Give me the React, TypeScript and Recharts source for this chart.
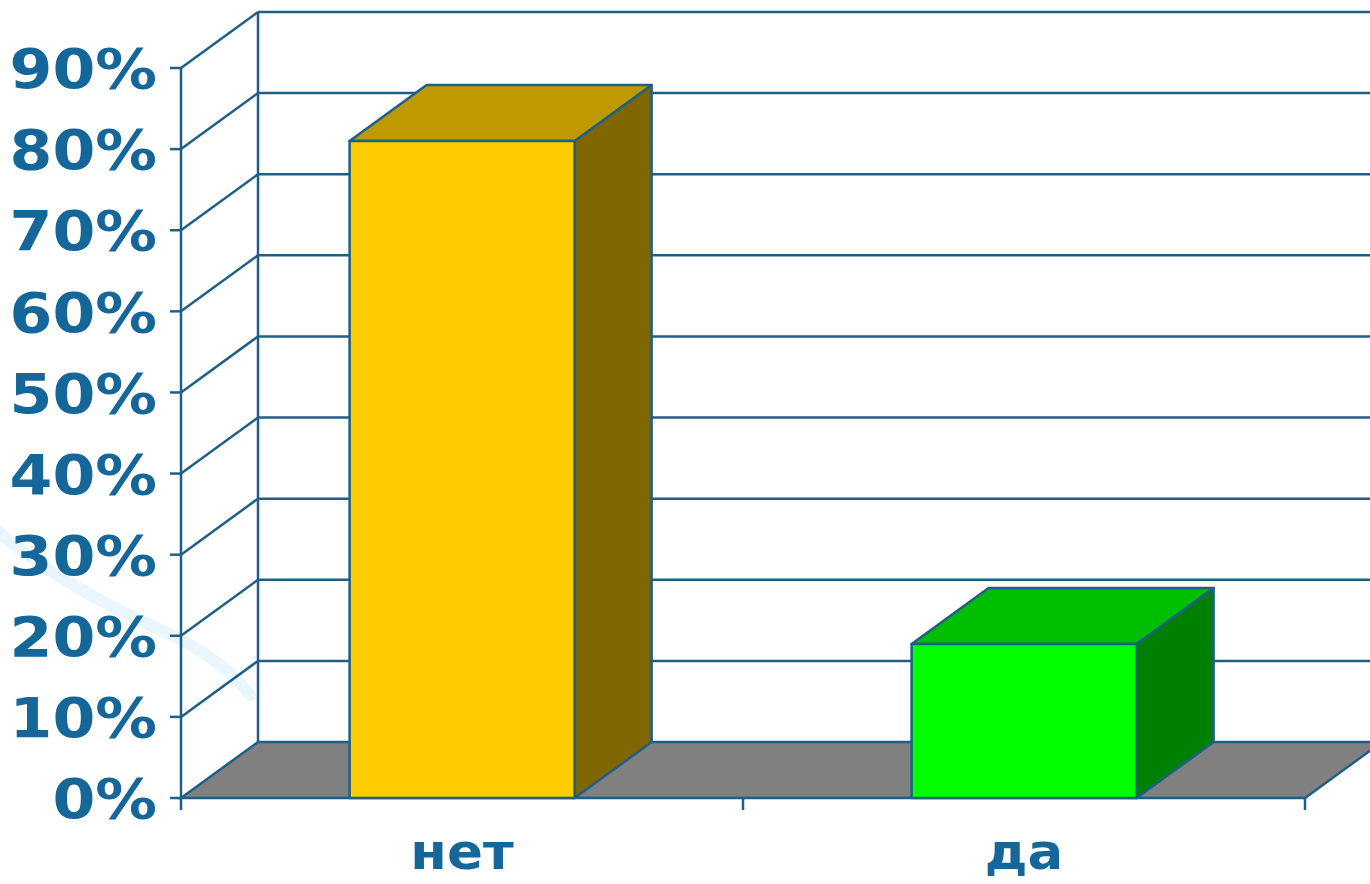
import React from 'react';
import { BarChart, Bar, XAxis, YAxis, CartesianGrid } from 'recharts';

// данные с диаграммы
const categories = ['нет', 'да'];
const values = [81, 19];
const yTicks = [0, 10, 20, 30, 40, 50, 60, 70, 80, 90];

const frontColors = ['#FFCC00', '#00FF00'];
const topColors = ['#BF9900', '#00BF00'];
const sideColors = ['#806600', '#008000'];

const data = categories.map((name, i) => ({ name, value: values[i] }));

// глубина 3D
const DX = 77;
const DY = -56;
const LINE = '#1f5f87';
const TEXT = '#15679a';
const SW = 2.5;
const FONT = '"DejaVu Sans", Verdana, sans-serif';

const Box3D = (props: any) => {
  const { x, y, width: w, height: h, index } = props;
  if (w == null || h == null) return null;
  const top = `${x},${y} ${x + w},${y} ${x + w + DX},${y + DY} ${x + DX},${y + DY}`;
  const side = `${x + w},${y} ${x + w},${y + h} ${x + w + DX},${y + h + DY} ${x + w + DX},${y + DY}`;
  return (
    <g strokeLinejoin="round">
      <polygon points={side} fill={sideColors[index]} stroke={LINE} strokeWidth={SW} />
      <polygon points={top} fill={topColors[index]} stroke={LINE} strokeWidth={SW} />
      <rect x={x} y={y} width={w} height={h} fill={frontColors[index]} stroke={LINE} strokeWidth={SW} />
    </g>
  );
};

// стены и пол рисуются через линии сетки
const gridLine = (p: any) => {
  const { x1, x2, y1, index } = p;
  const top = p.y ?? 68;
  const bottom = (p.y ?? 68) + (p.height ?? 730);
  const isFloor = Math.abs(y1 - bottom) < 1;
  const isTop = Math.abs(y1 - top) < 1;
  const n = categories.length;
  return (
    <g key={`g-${index}`}>
      {isFloor ? (
        <>
          <polygon
            points={`${x1},${y1} ${x2},${y1} ${x2 + DX},${y1 + DY} ${x1 + DX},${y1 + DY}`}
            fill="#808080"
            stroke={LINE}
            strokeWidth={SW}
          />
          {Array.from({ length: n + 1 }).map((_, i) => {
            const tx = x1 + (i * (x2 - x1)) / n;
            return <line key={i} x1={tx} y1={y1} x2={tx} y2={y1 + 12} stroke={LINE} strokeWidth={SW} />;
          })}
        </>
      ) : (
        <>
          <line x1={x1} y1={y1} x2={x1 + DX} y2={y1 + DY} stroke={LINE} strokeWidth={SW} />
          <line x1={x1 + DX} y1={y1 + DY} x2={x2 + DX} y2={y1 + DY} stroke={LINE} strokeWidth={SW} />
        </>
      )}
      {isTop && (
        <line x1={x1 + DX} y1={y1 + DY} x2={x1 + DX} y2={bottom + DY} stroke={LINE} strokeWidth={SW} />
      )}
    </g>
  );
};

const YTick = (props: any) => {
  const { x, y, payload } = props;
  return (
    <g transform={`translate(${x},${y}) scale(1.1,1)`}>
      <text x={0} y={0} dy="0.36em" textAnchor="end" fill={TEXT} fontSize={56} fontWeight="bold" fontFamily={FONT}>
        {payload.value}%
      </text>
    </g>
  );
};

const XTick = (props: any) => {
  const { x, y, payload } = props;
  return (
    <g transform={`translate(${x},${y + 63}) scale(1.06,1)`}>
      <text x={0} y={0} textAnchor="middle" fill={TEXT} fontSize={50} fontWeight="bold" fontFamily={FONT}>
        {payload.value}
      </text>
    </g>
  );
};

export default function App() {
  return (
    <div style={{ position: 'absolute', left: 0, top: 0, width: 1370, height: 884, background: '#fff' }}>
      <svg width={1370} height={884} style={{ position: 'absolute', left: 0, top: 0 }}>
        <path d="M -10 525 Q 60 585 150 625 Q 220 655 250 695" fill="none" stroke="#eaf6fd" strokeWidth={12} strokeLinecap="round" />
      </svg>
      <div style={{ position: 'absolute', left: 0, top: 0 }}>
        <BarChart
          width={1370}
          height={884}
          data={data}
          margin={{ top: 68, right: 65, left: 0, bottom: 0 }}
          barCategoryGap="30%"
        >
          <CartesianGrid horizontal={gridLine} vertical={false} />
          <XAxis
            dataKey="name"
            height={86}
            axisLine={false}
            tickLine={false}
            tick={<XTick />}
          />
          <YAxis
            width={181}
            domain={[0, 90]}
            ticks={yTicks}
            interval={0}
            tickSize={11}
            tickMargin={13}
            axisLine={{ stroke: LINE, strokeWidth: SW }}
            tickLine={{ stroke: LINE, strokeWidth: SW }}
            tick={<YTick />}
          />
          <Bar dataKey="value" shape={<Box3D />} isAnimationActive={false} />
        </BarChart>
      </div>
    </div>
  );
}
